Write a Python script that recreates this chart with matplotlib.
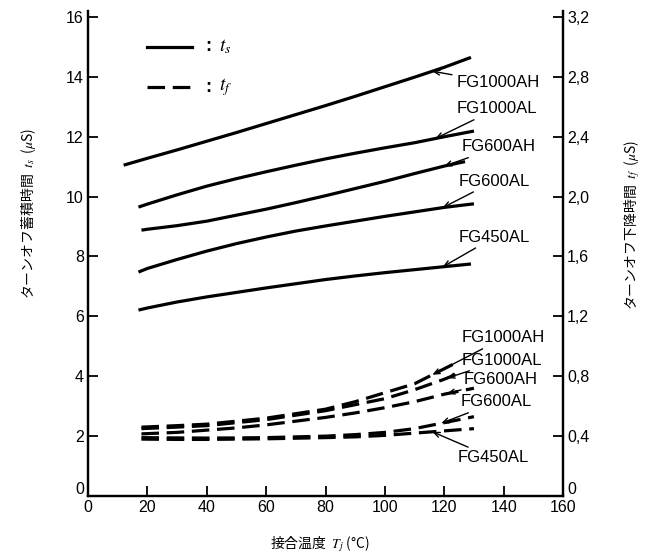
import numpy as np
import matplotlib
matplotlib.use("Agg")
import matplotlib.pyplot as plt
import matplotlib.transforms as mtransforms

plt.rcParams['font.family'] = ['Liberation Sans', 'DejaVu Sans']
plt.rcParams['mathtext.fontset'] = 'stix'

# ---- data: turn-off storage time ts (left axis, μs) ----
x_1000AH_s = [12, 20, 30, 40, 50, 60, 70, 80, 90, 100, 110, 120, 129]
ts_1000AH = [11.05, 11.28, 11.56, 11.85, 12.14, 12.44, 12.74, 13.04, 13.35, 13.67, 13.99, 14.32, 14.65]

x_1000AL_s = [17, 20, 30, 40, 50, 60, 70, 80, 90, 100, 110, 120, 130]
ts_1000AL = [9.65, 9.75, 10.06, 10.35, 10.60, 10.83, 11.05, 11.26, 11.45, 11.63, 11.80, 12.00, 12.19]

x_600AH_s = [18, 20, 30, 40, 50, 60, 70, 80, 90, 100, 110, 120, 127]
ts_600AH = [8.88, 8.91, 9.03, 9.18, 9.38, 9.58, 9.80, 10.03, 10.27, 10.51, 10.77, 11.02, 11.17]

x_600AL_s = [17, 20, 30, 40, 50, 60, 70, 80, 90, 100, 110, 120, 130]
ts_600AL = [7.48, 7.60, 7.90, 8.18, 8.43, 8.65, 8.85, 9.02, 9.18, 9.34, 9.49, 9.64, 9.76]

x_450AL_s = [17, 20, 30, 40, 50, 60, 70, 80, 90, 100, 110, 120, 129]
ts_450AL = [6.21, 6.28, 6.48, 6.65, 6.80, 6.95, 7.09, 7.23, 7.35, 7.46, 7.56, 7.66, 7.75]

# ---- data: turn-off fall time tf (right axis, μs) ----
x_1000AH_f = [18, 30, 40, 50, 60, 70, 80, 90, 100, 110, 116, 124]
tf_1000AH = [0.46, 0.47, 0.48, 0.50, 0.52, 0.55, 0.58, 0.63, 0.69, 0.75, 0.81, 0.89]

x_1000AL_f = [18, 30, 40, 50, 60, 70, 80, 90, 100, 110, 120, 125]
tf_1000AL = [0.45, 0.46, 0.47, 0.49, 0.51, 0.54, 0.57, 0.61, 0.65, 0.71, 0.78, 0.82]

x_600AH_f = [18, 30, 40, 50, 60, 70, 80, 90, 100, 110, 120, 130]
tf_600AH = [0.415, 0.425, 0.44, 0.455, 0.475, 0.50, 0.525, 0.555, 0.59, 0.63, 0.68, 0.72]

x_600AL_f = [18, 30, 40, 50, 60, 70, 80, 90, 100, 110, 120, 130]
tf_600AL = [0.39, 0.388, 0.387, 0.388, 0.39, 0.395, 0.40, 0.41, 0.425, 0.45, 0.49, 0.53]

x_450AL_f = [18, 30, 40, 50, 60, 70, 80, 90, 100, 110, 120, 130]
tf_450AL = [0.38, 0.378, 0.378, 0.38, 0.382, 0.386, 0.39, 0.395, 0.405, 0.42, 0.435, 0.45]

x_ticks = [0, 20, 40, 60, 80, 100, 120, 140, 160]
y_left_ticks = [0, 2, 4, 6, 8, 10, 12, 14, 16]
y_right_ticks = [0, 0.4, 0.8, 1.2, 1.6, 2.0, 2.4, 2.8, 3.2]
y_right_labels = ['0', '0,4', '0,8', '1,2', '1,6', '2,0', '2,4', '2,8', '3,2']

solid_series = [
    ('FG1000AH', x_1000AH_s, ts_1000AH, 116, (124, 13.8)),
    ('FG1000AL', x_1000AL_s, ts_1000AL, 117, (124, 12.93)),
    ('FG600AH', x_600AH_s, ts_600AH, 120, (126, 11.66)),
    ('FG600AL', x_600AL_s, ts_600AL, 119.5, (125, 10.52)),
    ('FG450AL', x_450AL_s, ts_450AL, 119.5, (125, 8.65)),
]
dashed_series = [
    ('FG1000AH', x_1000AH_f, tf_1000AH, 116, (126, 5.28)),
    ('FG1000AL', x_1000AL_f, tf_1000AL, 121, (126, 4.54)),
    ('FG600AH', x_600AH_f, tf_600AH, 121, (126.5, 3.90)),
    ('FG600AL', x_600AL_f, tf_600AL, 119, (125.5, 3.14)),
    ('FG450AL', x_450AL_f, tf_450AL, 116, (124.5, 1.27)),
]

W, H = 651, 556
fig = plt.figure(figsize=(W / 100, H / 100), dpi=100)
ax = fig.add_axes([88 / W, 1 - 496 / H, (563 - 88) / W, (496 - 11) / H])
ymax = 16.2
ax.set_xlim(0, 160)
ax.set_ylim(0, ymax)
ax2 = ax.twinx()
ax2.set_ylim(0, ymax / 5)

lw = 2.3
dash = (0, (5.5, 2.4))
for name, xs, ys, tipx, txt in solid_series:
    ax.plot(xs, ys, color='black', lw=lw, solid_capstyle='butt')
for name, xs, ys, tipx, txt in dashed_series:
    ax2.plot(xs, ys, color='black', lw=lw, linestyle=dash, dash_capstyle='butt')

arrow = dict(arrowstyle='->,head_length=0.35,head_width=0.15', lw=1.0, color='black',
             shrinkA=1, shrinkB=0)
for name, xs, ys, tipx, txt in solid_series:
    tipy = np.interp(tipx, xs, ys)
    ax.annotate(name, xy=(tipx, tipy), xytext=txt, fontsize=12, ha='left', va='center',
                arrowprops=arrow)
for name, xs, ys, tipx, txt in dashed_series:
    tipy = np.interp(tipx, xs, ys) * 5
    ax.annotate(name, xy=(tipx, tipy), xytext=txt, fontsize=12, ha='left', va='center',
                arrowprops=arrow)

# legend drawn as in the original
ax.plot([20, 35], [15.0, 15.0], color='black', lw=lw)
ax.plot([20, 35], [13.65, 13.65], color='black', lw=lw, linestyle=dash)
ax.text(39.5, 15.0, ':', fontsize=13, fontweight='bold', ha='left', va='center')
ax.text(44, 15.0, r'$t_s$', fontsize=14, ha='left', va='center')
ax.text(39.5, 13.65, ':', fontsize=13, fontweight='bold', ha='left', va='center')
ax.text(44, 13.65, r'$t_f$', fontsize=14, ha='left', va='center')

ax.set_xticks(x_ticks)
ax.set_yticks(y_left_ticks)
ax.set_xticklabels([str(v) for v in x_ticks])
ax.set_yticklabels([str(v) for v in y_left_ticks])
ax2.set_yticks(y_right_ticks)
ax2.set_yticklabels(y_right_labels)

for a in (ax, ax2):
    a.tick_params(direction='in', length=7, width=1.3, labelsize=11.5, pad=3)
    a.spines['top'].set_visible(False)
    for s in ('left', 'right', 'bottom'):
        a.spines[s].set_linewidth(1.6)

# raise the two "0" labels at the bottom corners a little, as in the original
up = mtransforms.ScaledTranslation(0, 6 / 72, fig.dpi_scale_trans)
for lab in (ax2.get_yticklabels()[0], ax.get_yticklabels()[0]):
    lab.set_transform(lab.get_transform() + up)

jp = ['Noto Sans CJK JP', 'DejaVu Sans']
fig.text(28 / W, 1 - 213 / H, 'ターンオフ蓄積時間  $t_s$  ($\\mu$S)', rotation=90,
         ha='center', va='center', fontsize=10, family=jp)
fig.text(632 / W, 1 - 225 / H, 'ターンオフ下降時間  $t_f$  ($\\mu$S)', rotation=90,
         ha='center', va='center', fontsize=10, family=jp)
fig.text(320 / W, 1 - 544 / H, '接合温度  $T_j$ (°C)', ha='center', va='center',
         fontsize=10, family=jp)

fig.savefig('out.png', dpi=100)
